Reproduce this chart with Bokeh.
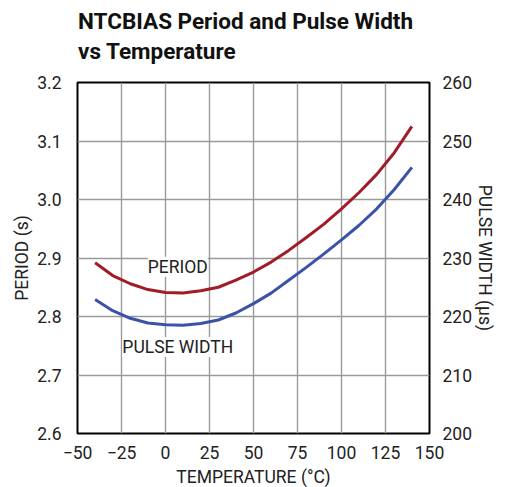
from bokeh.plotting import figure
from bokeh.models import Range1d, LinearAxis, FixedTicker, Label, Div
from bokeh.layouts import column
from bokeh.embed import file_html
from bokeh.resources import INLINE

temps = [-40, -30, -20, -10, 0, 10, 20, 30, 40, 50, 60, 70, 80, 90, 100, 110, 120, 130, 140]
period = [2.892, 2.870, 2.856, 2.846, 2.841, 2.840, 2.844, 2.850, 2.862, 2.876, 2.893,
          2.913, 2.935, 2.958, 2.984, 3.012, 3.043, 3.080, 3.125]
pulse = [222.9, 221.0, 219.7, 218.9, 218.6, 218.5, 218.8, 219.4, 220.6, 222.2, 224.0,
         226.2, 228.4, 230.7, 233.1, 235.6, 238.4, 241.7, 245.5]

x_ticks = [-50, -25, 0, 25, 50, 75, 100, 125, 150]
y_ticks = [2.6, 2.7, 2.8, 2.9, 3.0, 3.1, 3.2]
y2_ticks = [200, 210, 220, 230, 240, 250, 260]
title_lines = ["NTCBIAS Period and Pulse Width", "vs Temperature"]

FONT = "Roboto"

title_div = Div(
    text=('<div style="margin-left:78px;padding-top:6px;line-height:30px;'
          'font-family:Roboto,sans-serif;font-size:22.5px;font-weight:bold;color:#111111;'
          'white-space:nowrap;">' + "<br>".join(title_lines) + "</div>"),
    width=494, height=66, margin=0)

p = figure(frame_width=352, frame_height=351, output_backend="svg", toolbar_location=None,
           x_range=Range1d(-50, 150), y_range=Range1d(2.6, 3.2),
           min_border_left=77, min_border_right=76, min_border_bottom=50, min_border_top=16)
p.title.visible = False
p.extra_y_ranges = {"pw": Range1d(200, 260)}

p.outline_line_color = "black"
p.outline_line_width = 2

p.xaxis.ticker = FixedTicker(ticks=x_ticks)
p.xaxis.major_label_overrides = {-50: "\u221250", -25: "\u221225"}
p.yaxis.ticker = FixedTicker(ticks=y_ticks)
p.yaxis.major_label_overrides = {t: f"{t:.1f}" for t in y_ticks}
p.xaxis.axis_label = "TEMPERATURE (\u00b0C)"
p.yaxis.axis_label = "PERIOD (s)"

ax2 = LinearAxis(y_range_name="pw", ticker=FixedTicker(ticks=y2_ticks),
                 axis_label="PULSE WIDTH (\u00b5s)")
p.add_layout(ax2, "right")

for ax in [p.xaxis[0], p.yaxis[0], ax2]:
    ax.axis_line_color = None
    ax.major_tick_line_color = None
    ax.minor_tick_line_color = None
    ax.major_label_text_font = FONT
    ax.major_label_text_font_size = "17.5px"
    ax.major_label_text_color = "#222222"
    ax.axis_label_text_font = FONT
    ax.axis_label_text_font_size = "17.5px"
    ax.axis_label_text_font_style = "normal"
    ax.axis_label_text_color = "#222222"

p.xaxis.major_label_standoff = 6
p.xaxis.axis_label_standoff = 5
p.yaxis.major_label_standoff = 10
p.yaxis.axis_label_standoff = 2
ax2.major_label_standoff = 7
ax2.axis_label_standoff = 0

p.xgrid.grid_line_color = "#9a9a9a"
p.ygrid.grid_line_color = "#9a9a9a"
p.xgrid.grid_line_width = 1.4
p.ygrid.grid_line_width = 1.4

p.line(temps, period, line_color="#a01c26", line_width=3)
p.line(temps, pulse, y_range_name="pw", line_color="#3a52a8", line_width=3)

p.add_layout(Label(x=7, y=2.885, text="PERIOD", text_font=FONT, text_font_size="17.5px",
                   text_align="center", text_baseline="middle", text_color="#222222",
                   background_fill_color="white"))
p.add_layout(Label(x=7, y=2.748, text="PULSE WIDTH", text_font=FONT, text_font_size="17.5px",
                   text_align="center", text_baseline="middle", text_color="#222222",
                   background_fill_color="white"))

layout = column(title_div, p, spacing=0)

open("out.html", "w").write(file_html(layout, INLINE))
